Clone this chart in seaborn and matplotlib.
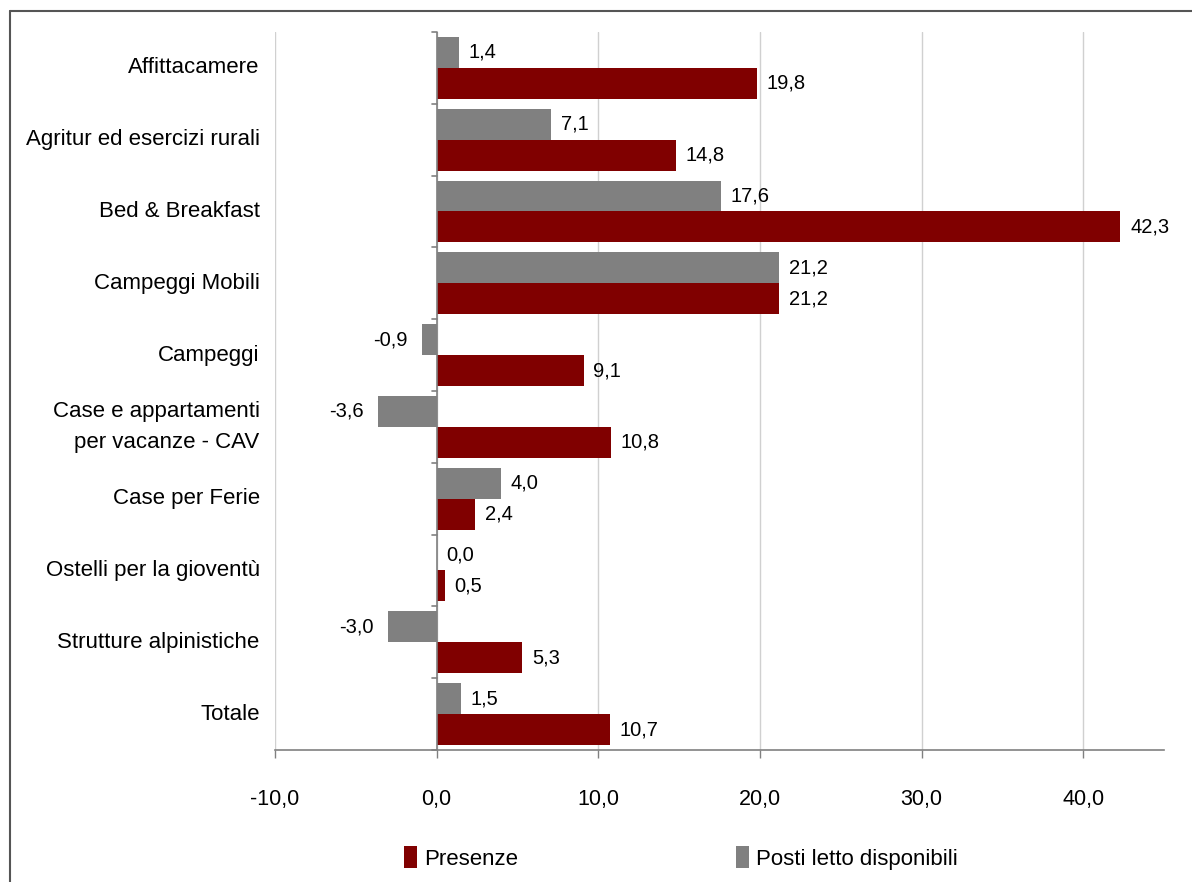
import matplotlib
matplotlib.use("Agg")
import matplotlib.pyplot as plt
import seaborn as sns
import pandas as pd
from matplotlib.patches import Patch
from matplotlib.lines import Line2D

categories = ["Affittacamere", "Agritur ed esercizi rurali", "Bed & Breakfast",
              "Campeggi Mobili", "Campeggi", "Case e appartamenti\nper vacanze - CAV",
              "Case per Ferie", "Ostelli per la gioventù", "Strutture alpinistiche", "Totale"]
posti = [1.4, 7.1, 17.6, 21.2, -0.9, -3.6, 4.0, 0.0, -3.0, 1.5]
presenze = [19.8, 14.8, 42.3, 21.2, 9.1, 10.8, 2.4, 0.5, 5.3, 10.7]
series_names = ["Posti letto disponibili", "Presenze"]
xticks = [-10, 0, 10, 20, 30, 40]

RED = "#800000"
GRAY = "#808080"

sns.set_theme(style="white")
plt.rcParams["font.family"] = ["Liberation Sans", "DejaVu Sans"]
plt.rcParams["text.color"] = "black"
plt.rcParams["xtick.color"] = "black"

df = pd.DataFrame({
    "cat": categories * 2,
    "val": posti + presenze,
    "serie": [series_names[0]] * len(categories) + [series_names[1]] * len(categories),
})

fig = plt.figure(figsize=(11.92, 8.82), dpi=100)
ax = fig.add_axes([275 / 1192, 1 - 750 / 882, (1164 - 275) / 1192, (750 - 32) / 882])

sns.barplot(data=df, y="cat", x="val", hue="serie", order=categories,
            hue_order=series_names, palette=[GRAY, RED], orient="h",
            width=0.86, saturation=1, ax=ax, legend=False, errorbar=None,
            linewidth=0, edgecolor="none")

ax.set_xlim(-10, 45)
ax.set_ylim(len(categories) - 0.5, -0.5)
ax.set_xticks(xticks)
ax.set_xticklabels([f"{t:.1f}".replace(".", ",") for t in xticks], fontsize=15.5, color="black")
ax.tick_params(axis="x", length=6, width=1, color="#808080", pad=22, direction="out", bottom=True)
ax.set_xlabel("")
ax.set_ylabel("")

# vertical gridlines
for t in xticks:
    ax.axvline(t, color="#d0d0d0", lw=1, zorder=0)

for s in ["top", "right", "left"]:
    ax.spines[s].set_visible(False)
ax.spines["bottom"].set_color("#808080")
ax.spines["bottom"].set_linewidth(1.2)

# zero axis line with category separator ticks
ax.axvline(0, color="#808080", lw=1.2, zorder=3)
ax.set_yticks([])
for b in range(len(categories) + 1):
    y = b - 0.5
    ax.plot([-0.3, 0], [y, y], color="#808080", lw=1.2, zorder=3, clip_on=False)

# category labels
for i, c in enumerate(categories):
    ax.text(-10.95, i, c, ha="right", va="center", fontsize=16, linespacing=1.6, color="black")

# value labels
for cont in ax.containers:
    for bar in cont:
        w = bar.get_width()
        yc = bar.get_y() + bar.get_height() / 2
        lab = f"{w:.1f}".replace(".", ",")
        if w < 0:
            ax.text(w - 0.9, yc, lab, ha="right", va="center", fontsize=14.5, color="black")
        else:
            ax.text(w + 0.6, yc, lab, ha="left", va="center", fontsize=14.5, color="black")

# legend
handles = [Patch(facecolor=RED, edgecolor="none"), Patch(facecolor=GRAY, edgecolor="none")]
fig.legend(handles, ["Presenze", "Posti letto disponibili"], loc="center",
           bbox_to_anchor=(0.571, 1 - 858 / 882), ncol=2, frameon=False,
           fontsize=16, handlelength=0.6, handleheight=1.1, handletextpad=0.3,
           columnspacing=9.8)

# outer frame lines (left and top)
fig.add_artist(Line2D([10 / 1192, 10 / 1192], [0, 1 - 11 / 882], color="#555555", lw=1.5))
fig.add_artist(Line2D([10 / 1192, 1], [1 - 11 / 882, 1 - 11 / 882], color="#555555", lw=1.5))

fig.savefig("out.png", dpi=100, facecolor="white")
